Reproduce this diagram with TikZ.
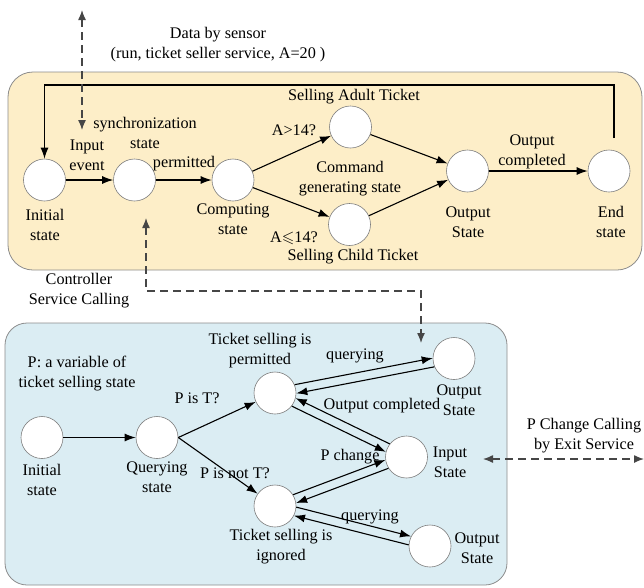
\documentclass[tikz,border=0pt]{standalone}
\usepackage{fontspec}
\setmainfont{LiberationSerif}[Extension=.ttf,UprightFont=*-Regular,BoldFont=*-Bold]
\usepackage{amssymb}
\usetikzlibrary{arrows.meta}

\definecolor{warmfill}{RGB}{253,238,200}
\definecolor{coolfill}{RGB}{219,237,243}
\definecolor{paneledge}{RGB}{140,140,140}
\definecolor{circedge}{RGB}{125,125,125}
\definecolor{dashgray}{RGB}{70,70,70}

\begin{document}
\begin{tikzpicture}[x=1pt,y=-1pt,
  state/.style={circle,draw=circedge,fill=white,minimum size=42pt,inner sep=0pt,line width=0.6pt},
  lbl/.style={font=\fontsize{16.2}{20}\selectfont,align=center,inner sep=0pt},
  flow/.style={line width=1.1pt,-{Latex[length=11pt,width=8pt]}},
  callline/.style={dashgray,line width=1.3pt,dash pattern=on 8pt off 5pt,
    {Latex[length=10pt,width=8pt]}-{Latex[length=10pt,width=8pt]}},
  panel/.style={draw=paneledge,line width=0.8pt}
]
\useasboundingbox (0,0) rectangle (644,587);

% panels
\draw[panel,fill=warmfill,rounded corners=25pt] (8,72) rectangle (642,270);
\draw[panel,fill=coolfill,rounded corners=22pt] (5,323) rectangle (507,585);

% ---------- service execution (top) ----------
\node[state] (init)  at (44.5,180) {};
\node[state] (sync)  at (134.5,180) {};
\node[state] (comp)  at (233,180) {};
\node[state] (adult) at (350.5,127) {};
\node[state] (child) at (349.5,224.5) {};
\node[state] (outp)  at (467.5,171) {};
\node[state] (fin)   at (609,171) {};

\node[lbl] (tInit)  at (45,225)  {Initial\\state};
\node[lbl] (tInEv)  at (87,155)  {Input\\event};
\node[lbl] (tSync)  at (145,133) {synchronization\\state};
\node[lbl] (tPerm)  at (184,164) {permitted};
\node[lbl] (tComp)  at (233,219) {Computing\\state};
\node[lbl] (tAgt)   at (294,130) {A>14?};
\node[lbl] (tAle)   at (294,238) {A$\leqslant$14?};
\node[lbl] (tCmd)   at (350,179) {Command\\generating state};
\node[lbl] (tAdult) at (354,97)  {Selling Adult Ticket};
\node[lbl] (tChild) at (353,257) {Selling Child Ticket};
\node[lbl] (tOutC)  at (532,152) {Output\\completed};
\node[lbl] (tOut)   at (468,222) {Output\\State};
\node[lbl] (tEnd)   at (611,222) {End\\state};
\node[lbl] (tData)  at (218,45)  {Data by sensor\\(run, ticket seller service, A=20 )};
\node[lbl] (tCtrl)  at (79,291)  {Controller\\Service Calling};

\draw[flow] (init) -- (sync);
\draw[flow] (sync) -- (comp);
\draw[flow] (comp) -- (adult);
\draw[flow] (comp) -- (child);
\draw[flow] (adult) -- (outp);
\draw[flow] (child) -- (outp);
\draw[flow] (outp) -- (fin);
\coordinate (fbStart) at (614,138);
\draw[flow] (fbStart) -- (614,85) -| (init.north);

% sensor data call
\coordinate (sensTop) at (82,10);
\coordinate (sensBot) at (82,130);
\draw[callline] (sensTop) -- (sensBot);

% ---------- ticket selling control (bottom) ----------
\node[state] (binit) at (42,437.5) {};
\node[state] (qry)   at (157,437.5) {};
\node[state] (tsp)   at (275,393) {};
\node[state] (tsi)   at (275,506) {};
\node[state] (outT)  at (454,358.5) {};
\node[state] (inp)   at (406.5,457) {};
\node[state] (outB)  at (430,546) {};

\node[lbl] (tPvar)  at (77,374)  {P: a variable of\\ticket selling state};
\node[lbl] (tPisT)  at (197,398) {P is T?};
\node[lbl] (tPnotT) at (235,473) {P is not T?};
\node[lbl] (tTsp)   at (260,351) {Ticket selling is\\permitted};
\node[lbl] (tTsi)   at (281,547) {Ticket selling is\\ignored};
\node[lbl] (tBInit) at (42,480)  {Initial\\state};
\node[lbl] (tQry)   at (157,477) {Querying\\state};
\node[lbl] (tQ1)    at (355,356) {querying};
\node[lbl] (tOC)    at (382,406) {Output completed};
\node[lbl] (tOutT)  at (459,400) {Output\\State};
\node[lbl] (tPchg)  at (350,457) {P change};
\node[lbl] (tInp)   at (450,462) {Input\\State};
\node[lbl] (tQ2)    at (370,517) {querying};
\node[lbl] (tOutB)  at (477,548) {Output\\State};
\node[lbl] (tPcc)   at (584,436) {P Change Calling\\by Exit Service};

\draw[flow] (binit) -- (qry);
\draw[flow] (qry.east) -- (tsp);
\draw[flow] (qry.east) -- (tsi);

\draw[flow] (tsp.23) -- (outT.179);
\draw[flow] (outT.203) -- (tsp.-1);
\draw[flow] (tsp.-38) -- (inp.166);
\draw[flow] (inp.142) -- (tsp.-14);
\draw[flow] (tsi.32) -- (inp.188);
\draw[flow] (inp.212) -- (tsi.8);
\draw[flow] (tsi.-3) -- (outB.153);
\draw[flow] (outB.177) -- (tsi.-27);

% service calls
\coordinate (ctrlTip) at (146,218);
\coordinate (ctrlEnd) at (421,343);
\draw[callline] (ctrlTip) -- (146,291) -- (421,291) -- (ctrlEnd);
\coordinate (pcL) at (483,459);
\coordinate (pcR) at (644,459);
\draw[callline] (pcL) -- (pcR);
\end{tikzpicture}
\end{document}
